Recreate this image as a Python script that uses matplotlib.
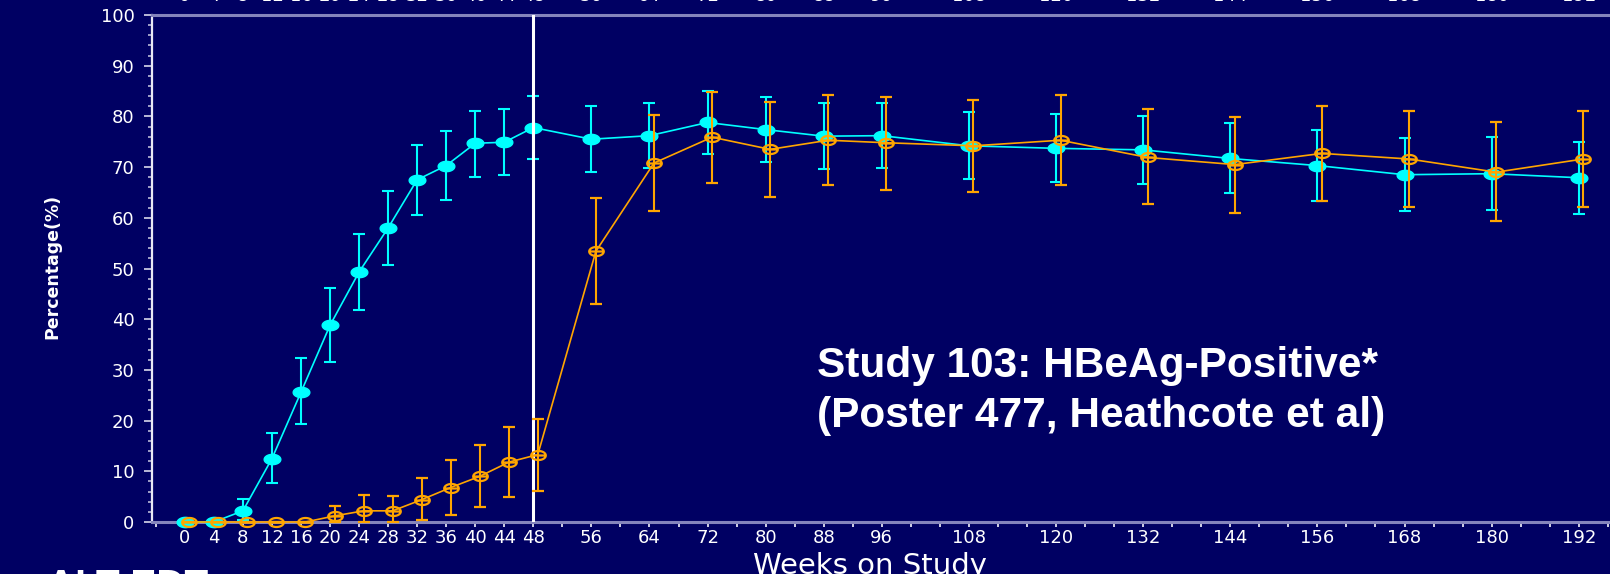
import numpy as np
import matplotlib
matplotlib.use('Agg')
import matplotlib.pyplot as plt
from matplotlib.path import Path
from matplotlib.ticker import MultipleLocator, FixedLocator
from matplotlib.transforms import ScaledTranslation

# ---------------- data ----------------
weeks = [0, 4, 8, 12, 16, 20, 24, 28, 32, 36, 40, 44, 48, 56, 64, 72, 80, 88, 96,
         108, 120, 132, 144, 156, 168, 180, 192]
cyan_pct = [0, 0, 2.2, 12.5, 25.6, 38.8, 49.3, 58.0, 67.5, 70.3, 74.7, 74.9, 77.8,
            75.5, 76.2, 78.8, 77.4, 76.1, 76.2, 74.2, 73.7, 73.4, 71.7, 70.3, 68.5, 68.7, 67.9]
cyan_lo = [0, 0, 0.3, 7.6, 19.3, 31.6, 41.8, 50.7, 60.6, 63.5, 68.1, 68.5, 71.5,
           69.0, 69.8, 72.6, 71.0, 69.6, 69.8, 67.7, 67.1, 66.6, 64.8, 63.4, 61.4, 61.5, 60.7]
cyan_hi = [0, 0, 4.5, 17.5, 32.3, 46.1, 56.9, 65.3, 74.4, 77.2, 81.1, 81.5, 84.0,
           82.1, 82.6, 85.1, 83.8, 82.6, 82.6, 80.9, 80.5, 80.1, 78.6, 77.3, 75.7, 75.9, 75.0]
orange_pct = [0, 0, 0, 0, 0, 1.2, 2.2, 2.2, 4.4, 6.8, 9.0, 11.8, 13.3,
              53.4, 70.8, 75.9, 73.5, 75.3, 74.8, 74.2, 75.3, 71.9, 70.5, 72.7, 71.6, 69.0, 71.6]
orange_lo = [0, 0, 0, 0, 0, 0, 0, 0, 0.3, 1.4, 3.0, 5.0, 6.2,
             42.9, 61.4, 66.9, 64.2, 66.4, 65.5, 65.1, 66.4, 62.7, 60.9, 63.4, 62.1, 59.3, 62.1]
orange_hi = [0, 0, 0, 0, 0, 3.2, 5.3, 5.1, 8.7, 12.2, 15.1, 18.8, 20.3,
             64.0, 80.3, 84.9, 82.8, 84.2, 83.8, 83.3, 84.2, 81.4, 79.9, 82.1, 81.0, 78.8, 81.0]
tick_weeks = weeks
tick_labels = [str(w) for w in weeks]
y_ticks = [0, 10, 20, 30, 40, 50, 60, 70, 80, 90, 100]
divider_week = 48

title_line1 = "Study 103: HBeAg-Positive*"
title_line2 = "(Poster 477, Heathcote et al)"
x_label = "Weeks on Study"
y_label = "Percentage(%)"
footer = "ALT EDT"

# ---------------- style ----------------
BG = '#000063'
CYAN = '#00ffff'
ORANGE = '#ffa500'
SPINE_H = '#8484bc'
PX = 72 / 100  # points per pixel at dpi 100

W, H = 1610, 574
fig = plt.figure(figsize=(W / 100, H / 100), dpi=100, facecolor=BG)
ax = fig.add_axes([152 / W, 1 - 522 / H, 1 - 152 / W, (522 - 15) / H])
ax.set_facecolor(BG)
ax.set_xlim(-4.52, 196.3)
ax.set_ylim(0, 100)

# markers
t = np.linspace(0, 2 * np.pi, 41)
ell = np.column_stack([np.cos(t), 0.62 * np.sin(t)])
filled_path = Path(ell, closed=True)
theta_verts = np.vstack([ell, [[-1, 0], [1, 0]]])
codes = [Path.MOVETO] + [Path.LINETO] * (len(ell) - 2) + [Path.CLOSEPOLY] + [Path.MOVETO, Path.LINETO]
theta_path = Path(theta_verts, codes)

c_err = [np.array(cyan_pct) - np.array(cyan_lo), np.array(cyan_hi) - np.array(cyan_pct)]
o_err = [np.array(orange_pct) - np.array(orange_lo), np.array(orange_hi) - np.array(orange_pct)]

ax.errorbar(weeks, cyan_pct, yerr=c_err, color=CYAN, ecolor=CYAN,
            marker=filled_path, markersize=12, markerfacecolor=CYAN, markeredgecolor=CYAN,
            lw=1.2, elinewidth=1.5, capsize=4.6, capthick=1.5, zorder=3, clip_on=False)

ax.axvline(divider_week, color='white', lw=2.2, zorder=3.5)

shift = ax.transData + ScaledTranslation(4.5 / 100, 0, fig.dpi_scale_trans)
ax.errorbar(weeks, orange_pct, yerr=o_err, color=ORANGE, ecolor=ORANGE,
            marker=theta_path, markersize=10.5, markerfacecolor='none', markeredgecolor=ORANGE,
            markeredgewidth=1.6, lw=1.2, elinewidth=1.5, capsize=4.6, capthick=1.5,
            zorder=4, clip_on=False, transform=shift)

# spines
ax.spines['right'].set_visible(False)
ax.spines['left'].set_color('#e8e8f4')
ax.spines['left'].set_linewidth(1.6)
for s in ('bottom', 'top'):
    ax.spines[s].set_color(SPINE_H)
    ax.spines[s].set_linewidth(2.2)

# y ticks
ax.set_yticks(y_ticks)
ax.yaxis.set_minor_locator(MultipleLocator(2))
ax.tick_params(axis='y', which='major', length=8 * PX, width=1.3, color='#c8c8e0',
               labelcolor='white', labelsize=13, pad=9.5 * PX)
ax.tick_params(axis='y', which='minor', length=4 * PX, width=1.1, color='#c8c8e0')

# x ticks bottom
ax.xaxis.set_major_locator(FixedLocator(tick_weeks))
ax.set_xticklabels(tick_labels)
ax.xaxis.set_minor_locator(MultipleLocator(4))
ax.tick_params(axis='x', which='both', length=5 * PX, width=1.3, color='#e0e0f0',
               labelcolor='white', labelsize=13, pad=1.5, top=False)

# x ticks top (labels only)
sec = ax.secondary_xaxis('top')
sec.set_xticks(tick_weeks, tick_labels)
sec.tick_params(length=0, pad=7.0, labelcolor='white', labelsize=13)
sec.spines['top'].set_visible(False)

# labels
fig.text(52 / W, 1 - 266 / H, y_label, rotation=90, color='white', fontsize=12.5,
         fontweight='bold', ha='center', va='center')
fig.text(870 / W, 1 - 552 / H, x_label, color='white', fontsize=21,
         ha='center', va='top')

# annotation
fig.text(817 / W, 1 - 377 / H, title_line1, color='white', fontsize=30.5,
         fontfamily='Liberation Sans', fontweight='bold', ha='left', va='baseline')
fig.text(817 / W, 1 - 427 / H, title_line2, color='white', fontsize=30.5,
         fontfamily='Liberation Sans', fontweight='bold', ha='left', va='baseline')

# cut-off footer at the bottom edge
fig.text(47 / W, 1 - 569 / H, footer, color='white', fontsize=28,
         fontfamily='Liberation Sans', fontweight='bold', ha='left', va='top')

fig.savefig('out.png', dpi=100, facecolor=BG)
